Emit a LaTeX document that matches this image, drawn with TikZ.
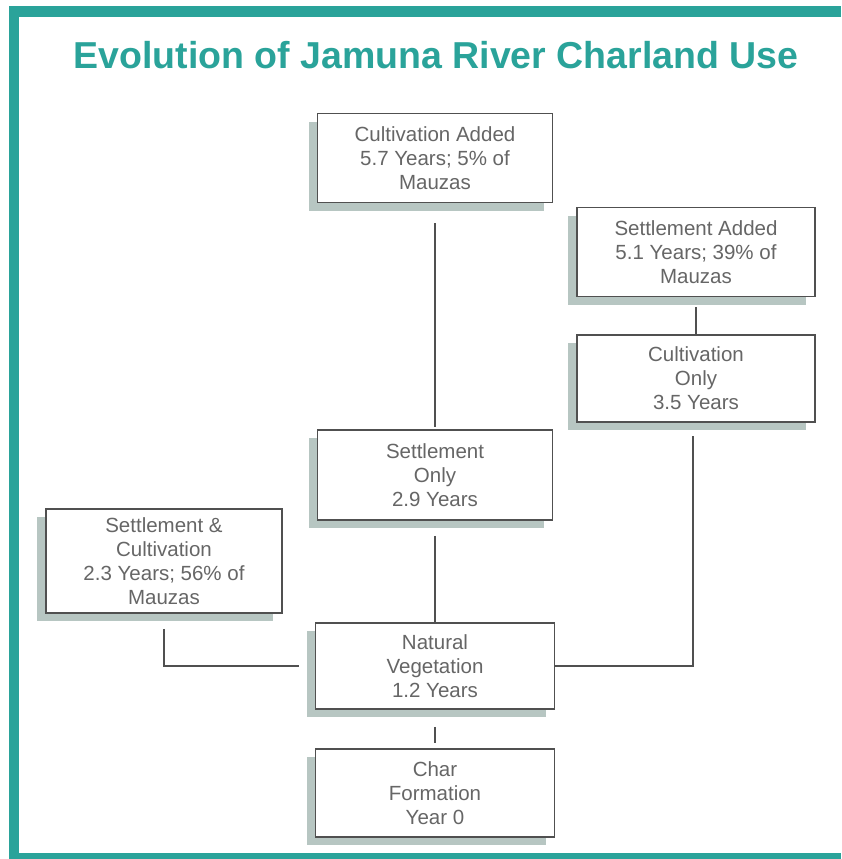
\documentclass[tikz,border=0pt]{standalone}
\usepackage{fontspec}
\setmainfont{Liberation Sans}
\usetikzlibrary{shadows,calc}
\definecolor{teal1}{HTML}{2AA39A}
\definecolor{shadowc}{HTML}{B7C6C2}
\definecolor{boxline}{HTML}{505050}
\definecolor{txt}{HTML}{666666}
\tikzset{
  stagebox/.style={draw=boxline, line width=1.8pt, fill=white, align=center,
    text=txt, font=\fontsize{20.5}{24}\selectfont, inner sep=0pt,
    drop shadow={shadow xshift=-9pt, shadow yshift=-8pt, fill=shadowc, opacity=1}},
  link/.style={draw=boxline, line width=2pt}
}
\begin{document}
\begin{tikzpicture}[x=1pt,y=-1pt]
\useasboundingbox (0,0) rectangle (841,859);
\fill[white] (0,0) rectangle (841,859);
% frame
\fill[teal1] (9,6) rectangle (841,17);
\fill[teal1] (9,6) rectangle (19,859);
\fill[teal1] (9,853) rectangle (841,859);
% title
\node[text=teal1, font=\fontsize{37.5}{40}\selectfont\bfseries, anchor=base] (title) at (436,69) {Evolution of Jamuna River Charland Use};
% boxes
\node[stagebox, minimum width=235pt, minimum height=89pt] (ca) at (435,158) {Cultivation Added\\5.7 Years; 5\% of\\Mauzas};
\node[stagebox, minimum width=238pt, minimum height=89pt] (sa) at (696,252) {Settlement Added\\5.1 Years; 39\% of\\Mauzas};
\node[stagebox, minimum width=238pt, minimum height=87pt] (co) at (696,378.5) {Cultivation\\Only\\3.5 Years};
\node[stagebox, minimum width=235pt, minimum height=90pt] (so) at (435,475) {Settlement\\Only\\2.9 Years};
\node[stagebox, minimum width=236pt, minimum height=104pt] (sc) at (164,561) {Settlement \&\\Cultivation\\2.3 Years; 56\% of\\Mauzas};
\node[stagebox, minimum width=239pt, minimum height=86pt] (nv) at (435,666) {Natural\\Vegetation\\1.2 Years};
\node[stagebox, minimum width=239pt, minimum height=88pt] (cf) at (435,793) {Char\\Formation\\Year 0};
% connectors
\draw[link] ($(ca.south)+(0,20)$) -- ($(so.north)+(0,-2)$);
\draw[link] ($(so.south)+(0,15)$) -- (nv.north);
\draw[link] ($(nv.south)+(0,17)$) -- ($(cf.north)+(0,-5)$);
\draw[link] ($(sa.south)+(0,10)$) -- (co.north);
\draw[link] ($(sc.south)+(0,15)$) |- ($(nv.west)+(-16,0)$);
\draw[link] (nv.east) -| ($(co.south)+(-3,13)$);
\end{tikzpicture}
\end{document}
